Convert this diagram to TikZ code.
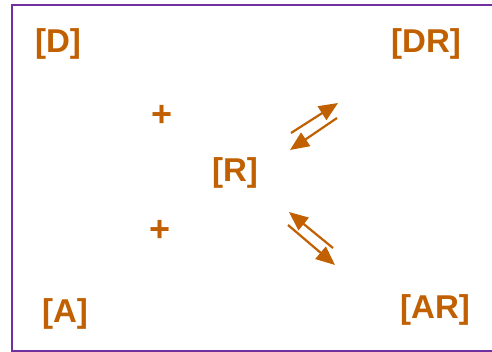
\documentclass[tikz,border=0pt]{standalone}
\usepackage{fontspec}
\setmainfont{Liberation Sans}
\usetikzlibrary{arrows.meta}
\definecolor{chem}{RGB}{192,96,0}
\definecolor{framec}{RGB}{112,48,160}
\tikzset{
  species/.style={text=chem, font=\fontsize{33}{38}\selectfont\bfseries, inner sep=0pt},
  plussign/.style={text=chem, font=\fontsize{36}{40}\selectfont\bfseries, inner sep=0pt},
  eqarrow/.style={draw=chem, line width=2.2pt, -{Triangle[length=19pt,width=16pt]}},
}
\begin{document}
\begin{tikzpicture}[x=1pt,y=-1pt]
\useasboundingbox (0,0) rectangle (492,352);
\draw[framec, line width=2pt] (12,5) rectangle (510,351);
\node[species] (D) at (58,44) {[D]};
\node[species] (DR) at (426,44) {[DR]};
\node[species] (R) at (235,173) {[R]};
\node[species] (A) at (65,314) {[A]};
\node[species] (AR) at (435,310) {[AR]};
\node[plussign] (p1) at (162,116) {+};
\node[plussign] (p2) at (160,231) {+};
\coordinate (a1s) at (291,133);
\coordinate (a1e) at (338,103);
\coordinate (a2s) at (337,118);
\coordinate (a2e) at (290,150);
\coordinate (a3s) at (333,248);
\coordinate (a3e) at (289,212);
\coordinate (a4s) at (288,225);
\coordinate (a4e) at (335,265);
\draw[eqarrow] (a1s) -- (a1e);
\draw[eqarrow] (a2s) -- (a2e);
\draw[eqarrow] (a3s) -- (a3e);
\draw[eqarrow] (a4s) -- (a4e);
\end{tikzpicture}
\end{document}
